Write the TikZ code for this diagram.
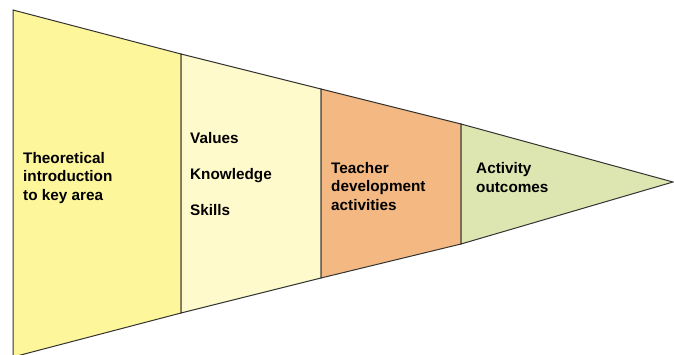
\documentclass[tikz,border=0pt]{standalone}
\usepackage{fontspec}
\setmainfont{Liberation Sans}
\definecolor{secA}{HTML}{FEF69B}
\definecolor{secB}{HTML}{FFFACB}
\definecolor{secC}{HTML}{F4B882}
\definecolor{secD}{HTML}{DDE6B1}
\definecolor{edge}{HTML}{333333}
\begin{document}
\begin{tikzpicture}[x=1pt,y=-1pt,
  sect/.style={draw=edge,line width=1pt,line join=miter},
  lbl/.style={font=\bfseries\fontsize{15.3}{18.5}\selectfont,inner sep=0pt,anchor=base west,align=left,text=black}]
\useasboundingbox (0,0) rectangle (674,354);
\coordinate (t0) at (13,10);
\coordinate (t1) at (181,54);
\coordinate (t2) at (321,89);
\coordinate (t3) at (461,124);
\coordinate (tip) at (673,182);
\coordinate (b3) at (461,244);
\coordinate (b2) at (321,278);
\coordinate (b1) at (181,313);
\coordinate (b0) at (13,357);
\filldraw[sect,fill=secA] (t0) -- (t1) -- (b1) -- (b0) -- cycle;
\filldraw[sect,fill=secB] (t1) -- (t2) -- (b2) -- (b1) -- cycle;
\filldraw[sect,fill=secC] (t2) -- (t3) -- (b3) -- (b2) -- cycle;
\filldraw[sect,fill=secD] (t3) -- (tip) -- (b3) -- cycle;
\node[lbl] (theo) at (23,200) {Theoretical\\introduction\\to key area};
\node[lbl] (val) at (190,143) {Values};
\node[lbl] (know) at (190,179) {Knowledge};
\node[lbl] (skill) at (190,215) {Skills};
\node[lbl] (teach) at (331,210) {Teacher\\development\\activities};
\node[lbl] (act) at (476,192) {Activity\\outcomes};
\end{tikzpicture}
\end{document}
